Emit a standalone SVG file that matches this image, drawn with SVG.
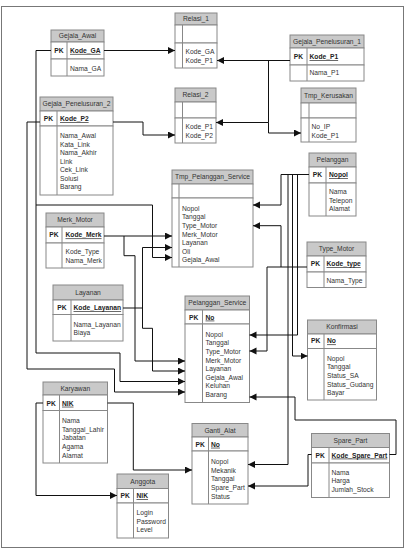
<svg xmlns="http://www.w3.org/2000/svg" width="407" height="551" viewBox="0 0 407 551">
<defs>
<marker id="ar" markerUnits="userSpaceOnUse" markerWidth="8" markerHeight="8" refX="7" refY="3.5" orient="auto">
<path d="M0,0 L7,3.5 L0,7 z" fill="#111"/>
</marker>
<style>
text{font-family:"Liberation Sans",Arial,sans-serif;font-size:6.7px;fill:#333}
.ht{text-anchor:middle}
.pk{text-anchor:middle;font-weight:bold;fill:#222}
.key{font-weight:bold;text-decoration:underline;fill:#222}
.hd{fill:#c9c9c9;stroke:#888;stroke-width:1}
.bx{fill:#fff;stroke:#888;stroke-width:1}
.dv{stroke:#888;stroke-width:1}
.cn path{fill:none;stroke:#111;stroke-width:1}
.cn .a{marker-end:url(#ar)}
</style>
</defs>
<rect x="0" y="0" width="407" height="551" fill="#fff"/>
<rect x="1.5" y="6.5" width="402" height="541" fill="#fff" stroke="#777" stroke-width="1"/>

<g id="gejala_awal">
<rect class="hd" x="51" y="30" width="53" height="12"/>
<rect class="bx" x="51" y="42" width="53" height="17"/>
<rect class="bx" x="51" y="59" width="53" height="17"/>
<line class="dv" x1="67" y1="42" x2="67" y2="76"/>
<text class="ht" x="77.5" y="38.4">Gejala_Awal</text>
<text class="pk" x="59" y="52.9">PK</text>
<text class="key" x="70" y="52.9">Kode_GA</text>
<text x="70" y="71">Nama_GA</text>
</g>

<g id="relasi_1">
<rect class="hd" x="175" y="13" width="42" height="12"/>
<rect class="bx" x="175" y="25" width="42" height="18"/>
<rect class="bx" x="175" y="43" width="42" height="25"/>
<line class="dv" x1="182.5" y1="25" x2="182.5" y2="68"/>
<text class="ht" x="196" y="21.4">Relasi_1</text>
<text x="185.5" y="54.4">Kode_GA</text>
<text x="185.5" y="63.4">Kode_P1</text>
</g>

<g id="gejala_penelusuran_1">
<rect class="hd" x="290" y="35" width="74" height="13"/>
<rect class="bx" x="290" y="48" width="74" height="17"/>
<rect class="bx" x="290" y="65" width="74" height="16"/>
<line class="dv" x1="307" y1="48" x2="307" y2="81"/>
<text class="ht" x="327" y="44">Gejala_Penelusuran_1</text>
<text class="pk" x="298.5" y="59">PK</text>
<text class="key" x="309.5" y="59">Kode_P1</text>
<text x="309.5" y="75.2">Nama_P1</text>
</g>

<g id="relasi_2">
<rect class="hd" x="175" y="88" width="41" height="14"/>
<rect class="bx" x="175" y="102" width="41" height="16"/>
<rect class="bx" x="175" y="118" width="41" height="25"/>
<line class="dv" x1="182.5" y1="102" x2="182.5" y2="143"/>
<text class="ht" x="195.5" y="97.4">Relasi_2</text>
<text x="185.5" y="129.4">Kode_P1</text>
<text x="185.5" y="138">Kode_P2</text>
</g>

<g id="tmp_kerusakan">
<rect class="hd" x="301" y="88" width="55" height="15"/>
<rect class="bx" x="301" y="103" width="55" height="15"/>
<rect class="bx" x="301" y="118" width="55" height="24"/>
<line class="dv" x1="309" y1="103" x2="309" y2="142"/>
<text class="ht" x="328.5" y="98">Tmp_Kerusakan</text>
<text x="311.5" y="129.4">No_IP</text>
<text x="311.5" y="138.4">Kode_P1</text>
</g>

<g id="gejala_penelusuran_2">
<rect class="hd" x="40" y="97" width="73" height="14"/>
<rect class="bx" x="40" y="111" width="73" height="15"/>
<rect class="bx" x="40" y="126" width="73" height="69"/>
<line class="dv" x1="57" y1="111" x2="57" y2="195"/>
<text class="ht" x="76.5" y="106.4">Gejala_Penelusuran_2</text>
<text class="pk" x="48.5" y="121">PK</text>
<text class="key" x="60" y="121">Kode_P2</text>
<text x="60" y="138.4">Nama_Awal</text>
<text x="60" y="146.9">Kata_Link</text>
<text x="60" y="155.4">Nama_Akhir</text>
<text x="60" y="163.9">Link</text>
<text x="60" y="172.4">Cek_Link</text>
<text x="60" y="180.9">Solusi</text>
<text x="60" y="189.4">Barang</text>
</g>

<g id="tmp_pelanggan_service">
<rect class="hd" x="172" y="170" width="81" height="14"/>
<rect class="bx" x="172" y="184" width="81" height="14"/>
<rect class="bx" x="172" y="198" width="81" height="69"/>
<line class="dv" x1="179" y1="184" x2="179" y2="267"/>
<text class="ht" x="212.5" y="179.4">Tmp_Pelanggan_Service</text>
<text x="182" y="210.7">Nopol</text>
<text x="182" y="219.3">Tanggal</text>
<text x="182" y="227.9">Type_Motor</text>
<text x="182" y="236.5">Merk_Motor</text>
<text x="182" y="245.1">Layanan</text>
<text x="182" y="253.7">Oli</text>
<text x="182" y="262.3">Gejala_Awal</text>
</g>

<g id="pelanggan">
<rect class="hd" x="309" y="153" width="47" height="14"/>
<rect class="bx" x="309" y="167" width="47" height="16"/>
<rect class="bx" x="309" y="183" width="47" height="33"/>
<line class="dv" x1="326" y1="167" x2="326" y2="216"/>
<text class="ht" x="332.5" y="162.4">Pelanggan</text>
<text class="pk" x="317.5" y="177">PK</text>
<text class="key" x="329" y="177">Nopol</text>
<text x="329" y="194.4">Nama</text>
<text x="329" y="202.9">Telepon</text>
<text x="329" y="211.4">Alamat</text>
</g>

<g id="merk_motor">
<rect class="hd" x="46" y="213" width="58" height="14"/>
<rect class="bx" x="46" y="227" width="58" height="16"/>
<rect class="bx" x="46" y="243" width="58" height="25"/>
<line class="dv" x1="62" y1="227" x2="62" y2="268"/>
<text class="ht" x="75" y="222.4">Merk_Motor</text>
<text class="pk" x="54" y="237.4">PK</text>
<text class="key" x="65.5" y="237.4">Kode_Merk</text>
<text x="65.5" y="254.4">Kode_Type</text>
<text x="65.5" y="263">Nama_Merk</text>
</g>

<g id="type_motor">
<rect class="hd" x="307" y="242" width="59" height="14"/>
<rect class="bx" x="307" y="256" width="59" height="16"/>
<rect class="bx" x="307" y="272" width="59" height="15.5"/>
<line class="dv" x1="324" y1="256" x2="324" y2="287.5"/>
<text class="ht" x="336.5" y="251.4">Type_Motor</text>
<text class="pk" x="315.5" y="266">PK</text>
<text class="key" x="326.5" y="266">Kode_type</text>
<text x="326.5" y="283.3">Nama_Type</text>
</g>

<g id="layanan">
<rect class="hd" x="53" y="285" width="70" height="15"/>
<rect class="bx" x="53" y="300" width="70" height="14.5"/>
<rect class="bx" x="53" y="314.5" width="70" height="26.5"/>
<line class="dv" x1="71" y1="300" x2="71" y2="341"/>
<text class="ht" x="88" y="295">Layanan</text>
<text class="pk" x="62" y="310.2">PK</text>
<text class="key" x="73.5" y="310.2">Kode_Layanan</text>
<text x="73.5" y="327.4">Nama_Layanan</text>
<text x="73.5" y="335.4">Biaya</text>
</g>

<g id="pelanggan_service">
<rect class="hd" x="185" y="296" width="64.5" height="14"/>
<rect class="bx" x="185" y="310" width="64.5" height="14"/>
<rect class="bx" x="185" y="324" width="64.5" height="78.5"/>
<line class="dv" x1="202.5" y1="310" x2="202.5" y2="402.5"/>
<text class="ht" x="217.25" y="305.4">Pelanggan_Service</text>
<text class="pk" x="193.75" y="319.6">PK</text>
<text class="key" x="205.5" y="319.6">No</text>
<text x="205.5" y="336.7">Nopol</text>
<text x="205.5" y="345.3">Tanggal</text>
<text x="205.5" y="353.9">Type_Motor</text>
<text x="205.5" y="362.5">Merk_Motor</text>
<text x="205.5" y="371.1">Layanan</text>
<text x="205.5" y="379.7">Gejala_Awal</text>
<text x="205.5" y="388.3">Keluhan</text>
<text x="205.5" y="396.9">Barang</text>
</g>

<g id="konfirmasi">
<rect class="hd" x="307.5" y="320" width="69" height="14"/>
<rect class="bx" x="307.5" y="334" width="69" height="14.5"/>
<rect class="bx" x="307.5" y="348.5" width="69" height="51.5"/>
<line class="dv" x1="324" y1="334" x2="324" y2="400"/>
<text class="ht" x="342" y="329.4">Konfirmasi</text>
<text class="pk" x="315.75" y="343.4">PK</text>
<text class="key" x="327" y="343.4">No</text>
<text x="327" y="360.7">Nopol</text>
<text x="327" y="369.3">Tanggal</text>
<text x="327" y="377.9">Status_SA</text>
<text x="327" y="386.5">Status_Gudang</text>
<text x="327" y="395.1">Bayar</text>
</g>

<g id="karyawan">
<rect class="hd" x="43" y="382" width="64.5" height="13"/>
<rect class="bx" x="43" y="395" width="64.5" height="15.5"/>
<rect class="bx" x="43" y="410.5" width="64.5" height="52.5"/>
<line class="dv" x1="59.5" y1="395" x2="59.5" y2="463"/>
<text class="ht" x="75.25" y="390.8">Karyawan</text>
<text class="pk" x="51.25" y="405.7">PK</text>
<text class="key" x="62" y="405.7">NIK</text>
<text x="62" y="423.1">Nama</text>
<text x="62" y="431.7">Tanggal_Lahir</text>
<text x="62" y="440.3">Jabatan</text>
<text x="62" y="448.9">Agama</text>
<text x="62" y="457.5">Alamat</text>
</g>

<g id="ganti_alat">
<rect class="hd" x="192" y="423.5" width="56" height="13.5"/>
<rect class="bx" x="192" y="437" width="56" height="14"/>
<rect class="bx" x="192" y="451" width="56" height="53"/>
<line class="dv" x1="208.5" y1="437" x2="208.5" y2="504"/>
<text class="ht" x="220" y="432.6">Ganti_Alat</text>
<text class="pk" x="200.25" y="446.7">PK</text>
<text class="key" x="211" y="446.7">No</text>
<text x="211" y="464.1">Nopol</text>
<text x="211" y="472.7">Mekanik</text>
<text x="211" y="481.3">Tanggal</text>
<text x="211" y="489.9">Spare_Part</text>
<text x="211" y="498.5">Status</text>
</g>

<g id="spare_part">
<rect class="hd" x="311.5" y="433.5" width="78" height="14"/>
<rect class="bx" x="311.5" y="447.5" width="78" height="15.5"/>
<rect class="bx" x="311.5" y="463" width="78" height="34.5"/>
<line class="dv" x1="329" y1="447.5" x2="329" y2="497.5"/>
<text class="ht" x="350.5" y="443">Spare_Part</text>
<text class="pk" x="320.25" y="457.6">PK</text>
<text class="key" x="331.5" y="457.6">Kode_Spare_Part</text>
<text x="331.5" y="474.7">Nama</text>
<text x="331.5" y="483.3">Harga</text>
<text x="331.5" y="491.9">Jumlah_Stock</text>
</g>

<g id="anggota">
<rect class="hd" x="117" y="474" width="51.5" height="14.5"/>
<rect class="bx" x="117" y="488.5" width="51.5" height="14.5"/>
<rect class="bx" x="117" y="503" width="51.5" height="35"/>
<line class="dv" x1="133.5" y1="488.5" x2="133.5" y2="538"/>
<text class="ht" x="142.75" y="483.6">Anggota</text>
<text class="pk" x="125.25" y="498.2">PK</text>
<text class="key" x="136.5" y="498.2">NIK</text>
<text x="136.5" y="515.1">Login</text>
<text x="136.5" y="523.7">Password</text>
<text x="136.5" y="532.3">Level</text>
</g>

<g id="connectors" class="cn">
<path class="a" d="M104,50.5 H175"/>
<path class="a" d="M51,50.5 H36 V205 H152.5 V257.5 H172"/>
<path class="a" d="M36,205 V353 H120 V381.5 H185"/>
<path class="a" d="M113,122 H143 V135 H175"/>
<path class="a" d="M40,122 H27 V369 H114.5 V392 H185"/>
<path class="a" d="M290,60.5 H217"/>
<path class="a" d="M268.5,60.5 V122.5 H216"/>
<path class="a" d="M268.5,122.5 V133 H301"/>
<path class="a" d="M104,236 H172"/>
<path class="a" d="M124,236 V255.7 H135 V361 H185"/>
<path class="a" d="M123,308 H142.5 V247.5 H172"/>
<path class="a" d="M142.5,308 V328.3 H152.5 V371 H185"/>
<path class="a" d="M309,174.5 H281 V205 H253"/>
<path class="a" d="M297.5,174.5 V335 H249.5"/>
<path class="a" d="M292.5,174.5 V356 H307.5"/>
<path class="a" d="M288,174.5 V464.5 H248"/>
<path class="a" d="M307,267 H267 V351 H249.5"/>
<path class="a" d="M281,267 V225.7 H253"/>
<path class="a" d="M389.5,454.5 H396 V420 H295 V397 H249.5"/>
<path class="a" d="M311.5,454.5 H308 V486 H248"/>
<path class="a" d="M43,403 H36 V495.5 H117"/>
<path class="a" d="M107.5,403 H133.3 V470 H192"/>
</g>
</svg>
